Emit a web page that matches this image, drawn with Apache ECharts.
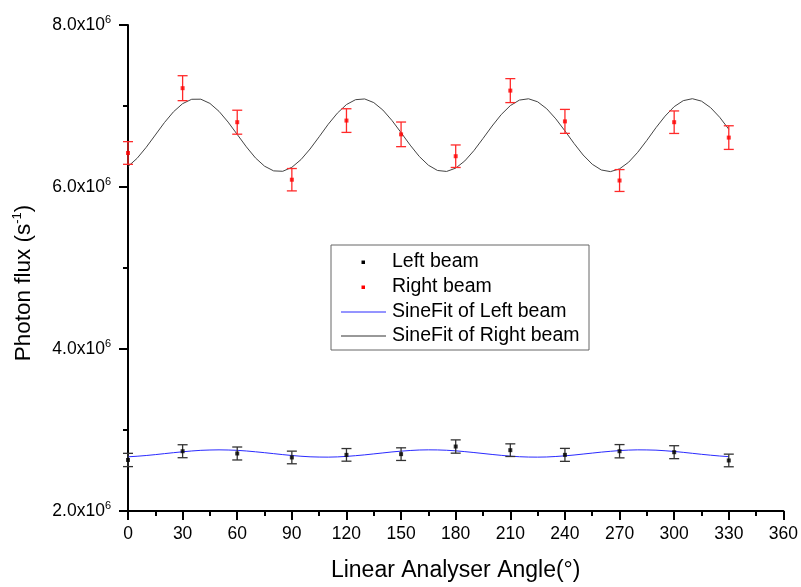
<!DOCTYPE html>
<html>
<head>
    <meta charset="utf-8"/>
    <script src="https://cdn.jsdelivr.net/npm/echarts@6/dist/echarts.min.js"></script>
</head>
<body style="margin:0">
<div id="main" style="width: 801px;height:587px;"></div>
<script type="text/javascript">
    var chartDom = document.getElementById('main');
    var myChart = echarts.init(chartDom);
    var option;

    // measured points (angle in degrees, flux in s^-1)
    var angles = [0, 30, 60, 90, 120, 150, 180, 210, 240, 270, 300, 330];
    var leftBeam = [2.630e6, 2.738e6, 2.710e6, 2.661e6, 2.693e6, 2.702e6, 2.796e6, 2.751e6, 2.693e6, 2.738e6, 2.726e6, 2.624e6];
    var leftErr = [0.082e6, 0.080e6, 0.080e6, 0.078e6, 0.078e6, 0.078e6, 0.082e6, 0.078e6, 0.080e6, 0.082e6, 0.080e6, 0.078e6];
    var rightBeam = [6.42e6, 7.22e6, 6.80e6, 6.09e6, 6.82e6, 6.65e6, 6.38e6, 7.19e6, 6.81e6, 6.08e6, 6.80e6, 6.61e6];
    var rightErr = [0.140e6, 0.154e6, 0.148e6, 0.138e6, 0.146e6, 0.152e6, 0.139e6, 0.148e6, 0.148e6, 0.135e6, 0.139e6, 0.146e6];

    // fit curves every 5 degrees (x10^6)
    var fitAngles = [0, 5, 10, 15, 20, 25, 30, 35, 40, 45, 50, 55, 60, 65, 70, 75, 80, 85, 90, 95,
        100, 105, 110, 115, 120, 125, 130, 135, 140, 145, 150, 155, 160, 165, 170, 175, 180, 185,
        190, 195, 200, 205, 210, 215, 220, 225, 230, 235, 240, 245, 250, 255, 260, 265, 270, 275,
        280, 285, 290, 295, 300, 305, 310, 315, 320, 325, 330];
    var leftFit = [2.669, 2.676, 2.685, 2.696, 2.708, 2.720, 2.731, 2.741, 2.749, 2.753, 2.755, 2.753,
        2.749, 2.741, 2.731, 2.720, 2.708, 2.696, 2.685, 2.676, 2.669, 2.666, 2.665, 2.668, 2.674,
        2.683, 2.693, 2.705, 2.717, 2.729, 2.739, 2.747, 2.753, 2.755, 2.754, 2.750, 2.743, 2.733,
        2.722, 2.710, 2.698, 2.687, 2.677, 2.670, 2.666, 2.665, 2.667, 2.673, 2.681, 2.691, 2.703,
        2.715, 2.727, 2.737, 2.746, 2.752, 2.755, 2.754, 2.751, 2.744, 2.735, 2.724, 2.712, 2.700,
        2.689, 2.679, 2.671];
    var rightFit = [6.253, 6.354, 6.490, 6.642, 6.795, 6.929, 7.029, 7.083, 7.084, 7.032, 6.934, 6.801,
        6.649, 6.496, 6.359, 6.257, 6.199, 6.194, 6.243, 6.338, 6.469, 6.620, 6.775, 6.912, 7.018,
        7.078, 7.087, 7.042, 6.950, 6.821, 6.671, 6.517, 6.377, 6.269, 6.204, 6.192, 6.233, 6.322,
        6.449, 6.599, 6.753, 6.894, 7.005, 7.073, 7.089, 7.052, 6.966, 6.841, 6.693, 6.538, 6.395,
        6.281, 6.210, 6.190, 6.224, 6.306, 6.429, 6.576, 6.732, 6.875, 6.992, 7.066, 7.090, 7.060,
        6.980, 6.861, 6.713];

    var legendNames = ['Left beam', 'Right beam', 'SineFit of Left beam', 'SineFit of Right beam'];

    var font = "'Liberation Sans', Arial, sans-serif";

    function pairs(xs, ys, scale) {
        return xs.map(function (x, i) { return [x, ys[i] * (scale || 1)]; });
    }

    function errBars(xs, ys, es) {
        return xs.map(function (x, i) { return [x, ys[i] - es[i], ys[i] + es[i]]; });
    }

    function errRender(color) {
        return function (params, api) {
            var lo = api.coord([api.value(0), api.value(1)]);
            var hi = api.coord([api.value(0), api.value(2)]);
            var w = 5;
            var st = { stroke: color, lineWidth: 1.3 };
            return {
                type: 'group',
                children: [
                    { type: 'line', shape: { x1: lo[0], y1: lo[1], x2: hi[0], y2: hi[1] }, style: st },
                    { type: 'line', shape: { x1: lo[0] - w, y1: lo[1], x2: lo[0] + w, y2: lo[1] }, style: st },
                    { type: 'line', shape: { x1: hi[0] - w, y1: hi[1], x2: hi[0] + w, y2: hi[1] }, style: st }
                ]
            };
        };
    }

    // hand-drawn legend box
    var lx = 331, ly = 245;
    var rowY = [262, 287, 312, 336];
    var legendGraphic = [
        { type: 'rect', shape: { x: lx, y: ly, width: 258, height: 105 },
          style: { fill: '#fff', stroke: '#666', lineWidth: 1 }, z: 100 },
        { type: 'rect', shape: { x: 361.5, y: rowY[0] - 1.5, width: 3.5, height: 3.5 }, style: { fill: '#000' }, z: 101 },
        { type: 'rect', shape: { x: 361.5, y: rowY[1] - 1.5, width: 3.5, height: 3.5 }, style: { fill: '#ff0000' }, z: 101 },
        { type: 'line', shape: { x1: 341, y1: rowY[2], x2: 386, y2: rowY[2] }, style: { stroke: '#2a2aff', lineWidth: 1 }, z: 101 },
        { type: 'line', shape: { x1: 341, y1: rowY[3], x2: 386, y2: rowY[3] }, style: { stroke: '#333', lineWidth: 1 }, z: 101 }
    ];
    legendNames.forEach(function (n, i) {
        legendGraphic.push({
            type: 'text', x: 392, y: rowY[i], z: 101,
            style: { text: n, font: '19.5px ' + font, fill: '#000', verticalAlign: 'middle' }
        });
    });

    option = {
        animation: false,
        backgroundColor: '#fff',
        grid: { left: 128, right: 16, top: 25, bottom: 76 },
        xAxis: {
            type: 'value',
            min: 0, max: 360, interval: 30,
            name: 'Linear Analyser Angle(°)',
            nameLocation: 'middle',
            nameGap: 48,
            nameTextStyle: { fontFamily: font, fontSize: 23, color: '#000' },
            axisLine: { lineStyle: { color: '#000', width: 2 } },
            axisTick: { inside: false, length: 9, lineStyle: { color: '#000', width: 2 } },
            minorTick: { show: true, splitNumber: 2, length: 5, lineStyle: { color: '#000', width: 2 } },
            axisLabel: { margin: 14, fontFamily: font, fontSize: 17.5, color: '#000' },
            splitLine: { show: false }
        },
        yAxis: {
            type: 'value',
            min: 2e6, max: 8e6, interval: 2e6,
            name: '{a|Photon flux (s}{s|-1}{a|)}',
            nameLocation: 'middle',
            nameGap: 92,
            nameRotate: 90,
            nameTextStyle: {
                padding: [0, 30, 0, 0],
                rich: {
                    a: { fontFamily: font, fontSize: 22.5, color: '#000' },
                    s: { fontFamily: font, fontSize: 13, color: '#000', padding: [0, 0, 12, 0] }
                }
            },
            axisLine: { show: true, lineStyle: { color: '#000', width: 2 } },
            axisTick: { show: true, length: 9, lineStyle: { color: '#000', width: 2 } },
            minorTick: { show: true, splitNumber: 2, length: 5, lineStyle: { color: '#000', width: 2 } },
            axisLabel: {
                margin: 17,
                formatter: function (v) {
                    return '{b|' + (v / 1e6).toFixed(1) + 'x10}{s|6}';
                },
                rich: {
                    b: { fontFamily: font, fontSize: 17.5, color: '#000' },
                    s: { fontFamily: font, fontSize: 11, color: '#000', padding: [0, 0, 11, 0] }
                }
            },
            splitLine: { show: false }
        },
        graphic: legendGraphic,
        series: [
            {
                name: 'SineFit of Left beam',
                type: 'line',
                showSymbol: false,
                data: pairs(fitAngles, leftFit, 1e6),
                lineStyle: { color: '#2a2aff', width: 1 },
                z: 2
            },
            {
                name: 'SineFit of Right beam',
                type: 'line',
                showSymbol: false,
                data: pairs(fitAngles, rightFit, 1e6),
                lineStyle: { color: '#444', width: 1 },
                z: 2
            },
            {
                type: 'custom',
                renderItem: errRender('#333'),
                data: errBars(angles, leftBeam, leftErr),
                z: 3
            },
            {
                type: 'custom',
                renderItem: errRender('#ff2a2a'),
                data: errBars(angles, rightBeam, rightErr),
                z: 3
            },
            {
                name: 'Left beam',
                type: 'scatter',
                symbol: 'rect',
                symbolSize: 4,
                data: pairs(angles, leftBeam),
                itemStyle: { color: '#000' },
                z: 4
            },
            {
                name: 'Right beam',
                type: 'scatter',
                symbol: 'rect',
                symbolSize: 4,
                data: pairs(angles, rightBeam),
                itemStyle: { color: '#ff0000' },
                z: 4
            }
        ]
    };

    option && myChart.setOption(option);
</script>
</body>
</html>
